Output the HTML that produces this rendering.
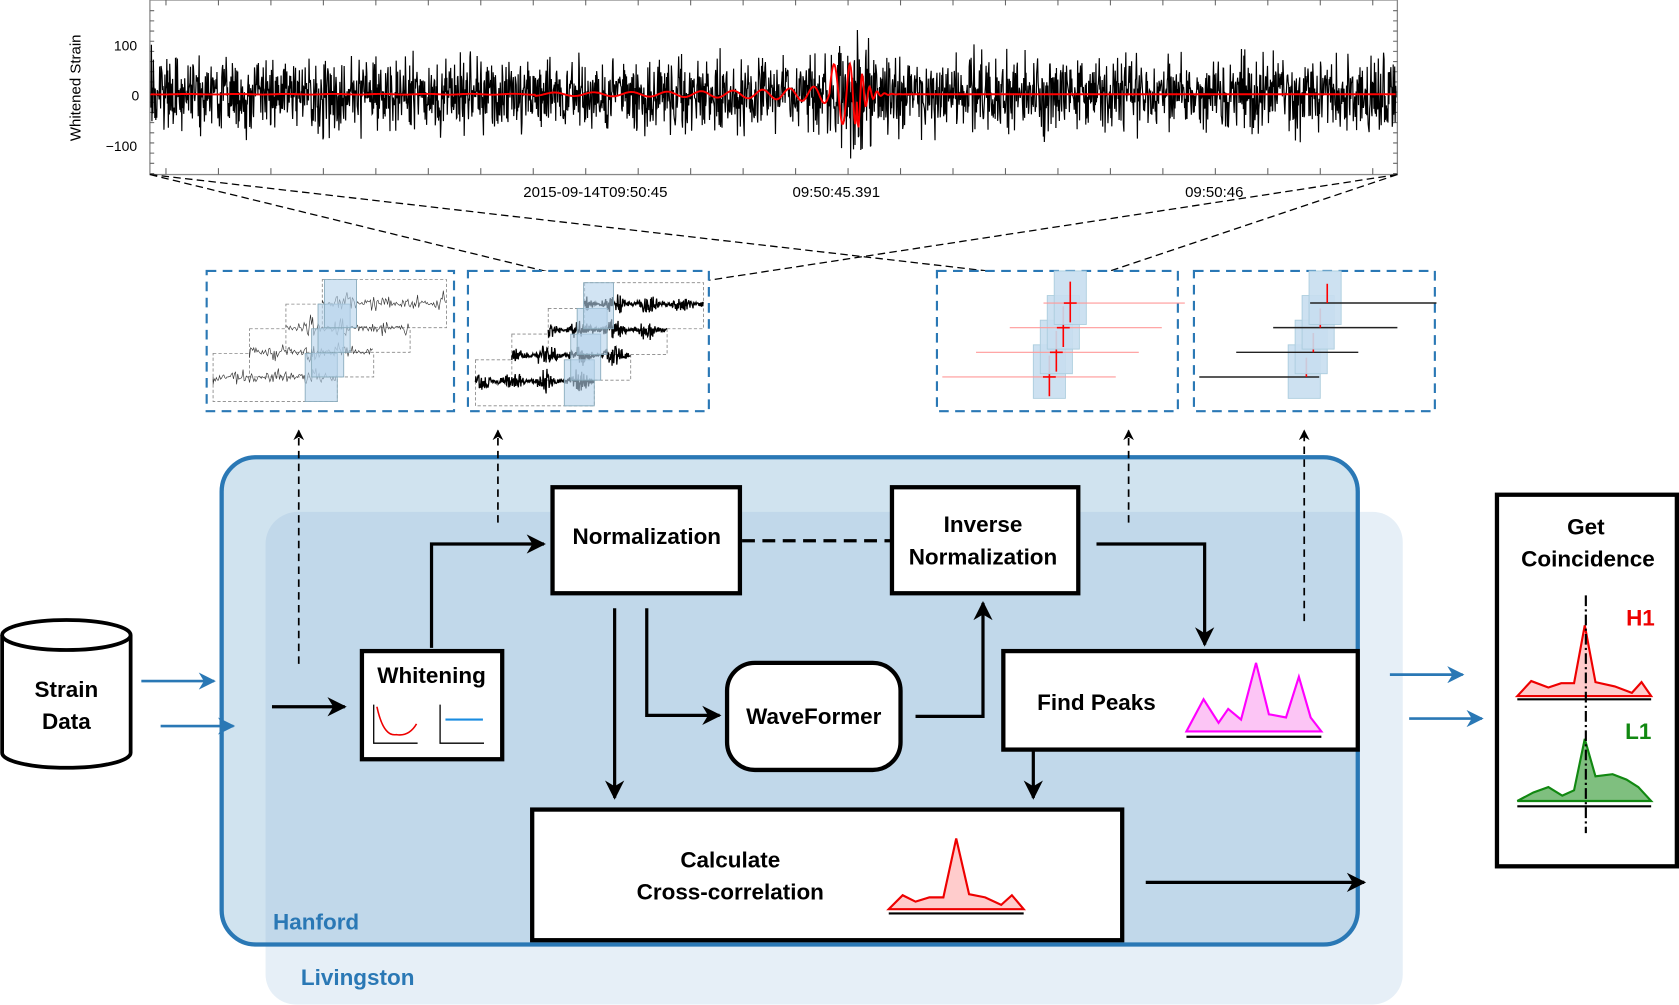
<!DOCTYPE html>
<html><head><meta charset="utf-8"><style>
html,body{margin:0;padding:0;background:#fff}
svg{display:block}
text{font-family:"Liberation Sans",sans-serif}
.b{font-weight:bold;font-size:21px}
</style></head><body>
<svg id="s" width="1679" height="1005" viewBox="0 0 1568 938.5" preserveAspectRatio="none" xmlns="http://www.w3.org/2000/svg">
<defs>
<marker id="a" viewBox="0 0 10 10" refX="9" refY="5" markerWidth="24" markerHeight="18" orient="auto" markerUnits="userSpaceOnUse"><path d="M0,0 L10,5 L0,10 L3,5z" fill="#000"/></marker>
<marker id="ab" viewBox="0 0 10 10" refX="9" refY="5" markerWidth="26" markerHeight="16" orient="auto" markerUnits="userSpaceOnUse"><path d="M0,0 L10,5 L0,10 L3,5z" fill="#2a78b5"/></marker>
<marker id="as" viewBox="0 0 10 10" refX="9" refY="5" markerWidth="10" markerHeight="12" orient="auto" markerUnits="userSpaceOnUse"><path d="M0,0 L10,5 L0,10 L3,5z" fill="#000"/></marker>
</defs>
<rect x="140" y="0" width="1165" height="163" fill="#fff" stroke="#888" stroke-width="1.2"/>
<g id="noise"></g>
<text x="128" y="47" font-size="13" text-anchor="end" font-family="Liberation Serif">100</text>
<text x="130" y="94" font-size="13" text-anchor="end" font-family="Liberation Serif">0</text>
<text x="128" y="141" font-size="13" text-anchor="end" font-family="Liberation Serif">−100</text>
<text transform="translate(75,82) rotate(-90)" font-size="14" text-anchor="middle">Whitened Strain</text>
<text x="556" y="184" font-size="14" text-anchor="middle">2015-09-14T09:50:45</text>
<text x="781" y="184" font-size="14" text-anchor="middle">09:50:45.391</text>
<text x="1134" y="184" font-size="14" text-anchor="middle">09:50:46</text>
<g stroke="#000" stroke-width="1.2" stroke-dasharray="7,4" fill="none">
<path d="M140,163 L545,262 M140,163 L1000,262 M1305,163 L1010,262 M1305,163 L660,262"/>
</g>
<g fill="#fff" stroke="#2a78b5" stroke-width="2" stroke-dasharray="9,6">
<rect x="193" y="253" width="231" height="131"/>
<rect x="437" y="253" width="225" height="131"/>
<rect x="875" y="253" width="225" height="131"/>
<rect x="1115" y="253" width="225" height="131"/>
</g>
<g id="mini"></g>
<rect x="248" y="478" width="1062" height="460" rx="28" fill="#e6eff7"/>
<rect x="207" y="427" width="1061" height="455" rx="32" fill="#d0e3ef"/>
<path d="M278,478 H1268 V852 a30,30 0 0 1 -30,30 H248 V508 a30,30 0 0 1 30,-30z" fill="#c1d8ea"/>
<rect x="207" y="427" width="1061" height="455" rx="32" fill="none" stroke="#2a78b5" stroke-width="4"/>
<text x="255" y="868" class="b" fill="#2a78b5">Hanford</text>
<text x="281" y="920" class="b" fill="#2a78b5">Livingston</text>
<g stroke="#000" stroke-width="1.6" stroke-dasharray="7,5" fill="none" marker-end="url(#as)">
<path d="M279,620 V402"/><path d="M465,488 V402"/><path d="M1054,488 V402"/><path d="M1218,580 V402"/>
</g>
<g stroke="#000" stroke-width="3.5" fill="#fff">
<path d="M2,593 V703 A60,14 0 0 0 122,703 V593"/>
<ellipse cx="62" cy="593" rx="60" ry="14"/>
</g>
<text x="62" y="651" class="b" text-anchor="middle">Strain</text>
<text x="62" y="681" class="b" text-anchor="middle">Data</text>
<g stroke="#2a78b5" stroke-width="2.5" marker-end="url(#ab)">
<path d="M132,636 H200"/><path d="M150,678 H218"/>
<path d="M1298,630 H1366"/><path d="M1316,671 H1384"/>
</g>
<g stroke="#000" stroke-width="3" fill="none" marker-end="url(#a)">
<path d="M254,660 H322"/>
<path d="M403,605 V508 H508"/>
<path d="M574,568 V745"/>
<path d="M604,568 V668 H672"/>
<path d="M855,669 H918 V563"/>
<path d="M1024,508 H1125 V602"/>
<path d="M965,700 V745"/>
<path d="M1070,824 H1274"/>
</g>
<path d="M693,505 H832" stroke="#000" stroke-width="3" stroke-dasharray="12,7"/>
<g stroke="#000" stroke-width="4" fill="#fff">
<rect x="338" y="608" width="131" height="101"/>
<rect x="516" y="455" width="175" height="99"/>
<rect x="833" y="455" width="174" height="99"/>
<rect x="679" y="619" width="162" height="100" rx="26"/>
<rect x="937" y="608" width="331" height="92"/>
<rect x="497" y="756" width="551" height="122"/>
<rect x="1398" y="462" width="168" height="347"/>
</g>
<text x="403" y="638" class="b" text-anchor="middle">Whitening</text>
<text x="604" y="508" class="b" text-anchor="middle">Normalization</text>
<text x="918" y="497" class="b" text-anchor="middle">Inverse</text>
<text x="918" y="527" class="b" text-anchor="middle">Normalization</text>
<text x="760" y="676" class="b" text-anchor="middle">WaveFormer</text>
<text x="1024" y="663" class="b" text-anchor="middle">Find Peaks</text>
<text x="682" y="810" class="b" text-anchor="middle">Calculate</text>
<text x="682" y="840" class="b" text-anchor="middle">Cross-correlation</text>
<text x="1481" y="499" class="b" text-anchor="middle">Get</text>
<text x="1483" y="529" class="b" text-anchor="middle">Coincidence</text>
<text x="1532" y="584" class="b" fill="#e00" text-anchor="middle">H1</text>
<text x="1530" y="690" class="b" fill="#118811" text-anchor="middle">L1</text>
<path d="M349,658 V694 H390 M411,658 V694 H452" stroke="#000" stroke-width="1.2" fill="none"/>
<path d="M352,660 Q358,688 370,686 Q382,688 389,676" stroke="#e00" stroke-width="1.5" fill="none"/>
<path d="M416,672 H451" stroke="#1a8ce0" stroke-width="2"/>
<path d="M1108,683 L1124,653 L1138,675 L1147,662 L1159,672 L1173,619 L1185,667 L1201,670 L1213,632 L1224,670 L1234,683Z" fill="#fcc5f5" stroke="#f0f" stroke-width="2"/>
<path d="M1108,688 H1234" stroke="#000" stroke-width="2"/>
<path d="M830,849 L843,836 L855,842 L868,838 L881,838 L893,783 L905,835 L920,838 L935,845 L945,836 L956,849Z" fill="#fcc" stroke="#e00" stroke-width="2"/>
<path d="M830,853 H956" stroke="#000" stroke-width="2"/>
<path d="M1417,650 L1430,636 L1446,642 L1458,638 L1470,638 L1480,584 L1490,637 L1508,641 L1524,647 L1533,637 L1542,650Z" fill="#fcc" stroke="#e00" stroke-width="2"/>
<path d="M1417,653 H1542" stroke="#000" stroke-width="2"/>
<path d="M1417,748 L1432,740 L1446,735 L1459,743 L1470,738 L1480,690 L1490,725 L1506,723 L1519,728 L1530,735 L1542,748Z" fill="#7fbf7f" stroke="#118811" stroke-width="2"/>
<path d="M1417,753 H1542" stroke="#000" stroke-width="2"/>
<path d="M1481,556 V778" stroke="#000" stroke-width="2" stroke-dasharray="10,3,2,3"/>
</svg>
<script>
(function(){
var ns="http://www.w3.org/2000/svg";
var seed=12345;function r(){seed=(seed*16807)%2147483647;return seed/2147483647;}
function g(){return (r()+r()+r()-1.5)*1.5;}
function P(d,st,w,parent,fill){var p=document.createElementNS(ns,"path");p.setAttribute("d",d);p.setAttribute("stroke",st);p.setAttribute("stroke-width",w);p.setAttribute("fill",fill||"none");parent.appendChild(p);return p;}
var N=document.getElementById("noise");
var t="";for(var x=155;x<1305;x+=49){t+="M"+x+",163v-6M"+x+",0v5";}
for(var y=10;y<163;y+=9.5){t+="M140,"+y+"h4M1305,"+y+"h-4";}
P(t,"#666",1,N);
var d="M141,88";for(var x=141;x<1304;x+=0.45){var a=22;var c=Math.abs(x-797);if(c<20)a=22+(20-c)*1.6;var v=g()*a;if(v>60)v=60;if(v<-60)v=-60;d+="L"+x.toFixed(1)+","+(88+v).toFixed(1);}
P(d,"#000",1.1,N);
var d2="M141,88";for(var x=141;x<1304;x+=0.8){var amp=0,ph;if(x<800){var tt=(800-x);amp=Math.min(14,500/(tt+30)); if(x<500)amp*=0.3;if(x>775)amp=28;ph=Math.sin(Math.pow(tt,0.7)*1.3);}else{var tt=x-800;amp=40*Math.exp(-tt/7);ph=Math.sin(tt*0.9);}
d2+="L"+x.toFixed(1)+","+(88+amp*ph).toFixed(1);}
P(d2,"#f00",1.8,N);
var M=document.getElementById("mini");
function rect(x,y,w,h,st,fill,dash){var e=document.createElementNS(ns,"rect");e.setAttribute("x",x);e.setAttribute("y",y);e.setAttribute("width",w);e.setAttribute("height",h);e.setAttribute("fill",fill||"none");if(st){e.setAttribute("stroke",st);e.setAttribute("stroke-width",0.8);}if(dash)e.setAttribute("stroke-dasharray",dash);M.appendChild(e);}
function nz(x0,x1,y,a,col,w,step){var d="M"+x0+","+y;for(var x=x0;x<x1;x+=step)d+="L"+x.toFixed(1)+","+(y+g()*a*(0.6+0.4*Math.sin(x*0.2))).toFixed(1);P(d,col,w,M);}
// panel1
for(var i=0;i<4;i++){var bx=199+i*34,by=330-i*23;rect(bx,by,116,45,"#888","#fff","3,2");}
for(var i=0;i<4;i++){var bx=199+i*34,by=330-i*23;nz(bx,bx+116,by+22,7,"#333",0.6,1);}
for(var i=0;i<4;i++){var by=330-i*23;rect(285+i*6,by,30,45,"#8ab","rgba(180,210,235,0.6)");}
// panel2
for(var i=0;i<4;i++){var bx=444+i*34,by=336-i*24;rect(bx,by,111,43,"#888","#fff","3,2");}
for(var i=0;i<4;i++){var bx=444+i*34,by=336-i*24;nz(bx,bx+111,by+20,6,"#000",1.2,0.4);}
for(var i=0;i<4;i++){var by=336-i*24;rect(527+i*6,by,28,43,"#8ab","rgba(180,210,235,0.6)");}
// panel3
for(var i=0;i<4;i++){var cx=980+i*6.5,cy=352-i*23;rect(cx-15,cy-30,30,50,"#acd","rgba(200,222,240,0.9)");P("M"+(cx-100+i*25)+","+cy+"H"+(cx+62+i*15),"#f99",1,M);P("M"+cx+","+(cy-20)+"V"+(cy+18)+"M"+(cx-6)+","+cy+"H"+(cx+6),"#f00",1.5,M);}
// panel4
for(var i=0;i<4;i++){var cx=1218+i*6.5,cy=352-i*23;rect(cx-15,cy-30,30,50,"#acd","rgba(200,222,240,0.9)");P("M"+(cx-98+i*28)+","+cy+"H"+(cx+14+i*30),"#222",1.4,M);P("M"+(cx+2)+","+(cy-18)+"V"+cy,"#f00",1.5,M);}
})();
</script>
</body></html>
